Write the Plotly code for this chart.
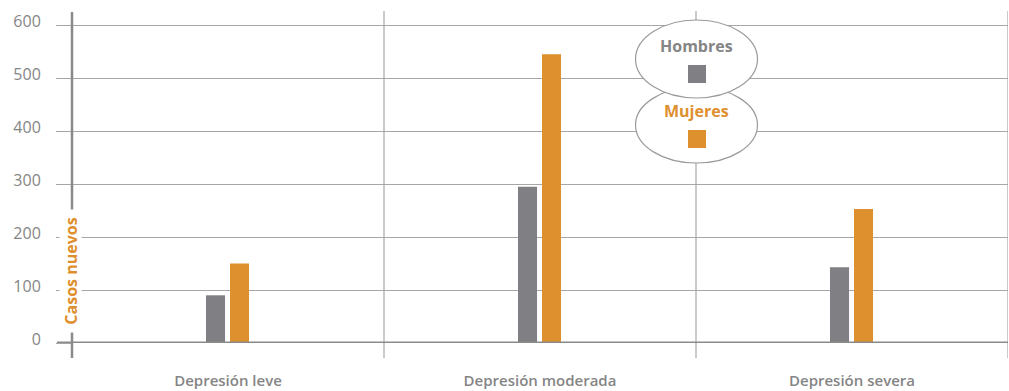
import plotly.graph_objects as go

# Data
categorias = ["Depresión leve", "Depresión moderada", "Depresión severa"]
hombres = [90, 295, 143]
mujeres = [150, 545, 253]
y_ticks = [0, 100, 200, 300, 400, 500, 600]
serie_nombres = ["Hombres", "Mujeres"]

# Styling
W, H = 1009, 391
ML, MR, MT, MB = 72, 1, 11, 48
PW, PH = W - ML - MR, H - MT - MB
GRAY_BAR = "#808084"
ORANGE = "#DE8F2E"
GRID = "#a6a6a6"
AXIS = "#8a8a8a"
TEXT = "#858585"
FONT = "Open Sans"


def px_x(p):
    return (p - ML) / PW


def px_y(p):
    return (H - MB - p) / PH


fig = go.Figure()
fig.add_trace(go.Bar(x=categorias, y=hombres, name=serie_nombres[0],
                     marker=dict(color=GRAY_BAR, line=dict(width=0)),
                     width=0.061, offset=-0.0705, showlegend=False))
fig.add_trace(go.Bar(x=categorias, y=mujeres, name=serie_nombres[1],
                     marker=dict(color=ORANGE, line=dict(width=0)),
                     width=0.061, offset=0.0064, showlegend=False))

shapes = []
# category separators, extending below the baseline
for b in [0.5, 1.5, 2.5]:
    shapes.append(dict(type="line", layer="below", xref="x", yref="paper",
                       x0=b, x1=b, y0=px_y(358), y1=1,
                       line=dict(color="#b8b8b8", width=1.5)))
# value axis line
shapes.append(dict(type="line", layer="above", xref="paper", yref="paper",
                   x0=0, x1=0, y0=px_y(358), y1=px_y(12),
                   line=dict(color=AXIS, width=2.5)))
# baseline
shapes.append(dict(type="line", layer="above", xref="paper", yref="y",
                   x0=px_x(57), x1=1, y0=0, y1=0,
                   line=dict(color=AXIS, width=3)))

# legend bubbles (Mujeres first, Hombres overlaps it)
cx = 696.5
for top, bot in [(87, 163), (20, 98)]:
    shapes.append(dict(type="circle", layer="above", xref="paper", yref="paper",
                       x0=px_x(cx - 61), x1=px_x(cx + 61),
                       y0=px_y(bot), y1=px_y(top),
                       fillcolor="white", line=dict(color="#9a9a9a", width=1.2)))
for (t, b), col in [((65, 83), GRAY_BAR), ((130, 148), ORANGE)]:
    shapes.append(dict(type="rect", layer="above", xref="paper", yref="paper",
                       x0=px_x(688), x1=px_x(706), y0=px_y(b), y1=px_y(t),
                       fillcolor=col, line=dict(width=0)))

annotations = [
    dict(text="<b>Hombres</b>", xref="paper", yref="paper",
         x=px_x(cx), y=px_y(46), xanchor="center", yanchor="middle",
         showarrow=False, font=dict(family=FONT, size=16, color=TEXT)),
    dict(text="<b>Mujeres</b>", xref="paper", yref="paper",
         x=px_x(cx), y=px_y(111), xanchor="center", yanchor="middle",
         showarrow=False, font=dict(family=FONT, size=16, color=ORANGE)),
    dict(text="<b>Casos nuevos</b>", xref="paper", yref="paper",
         x=px_x(70), y=px_y(271), xanchor="center", yanchor="middle",
         textangle=-90, showarrow=False, bgcolor="white",
         width=122, height=21, borderpad=0,
         font=dict(family=FONT, size=16, color=ORANGE)),
]

fig.update_layout(
    width=W, height=H,
    margin=dict(l=ML, r=MR, t=MT, b=MB, pad=0),
    paper_bgcolor="white", plot_bgcolor="white",
    barmode="group",
    shapes=shapes, annotations=annotations,
    xaxis=dict(range=[-0.5, 2.5], showgrid=False, showline=False,
               zeroline=False, ticks="", ticklabelstandoff=27,
               tickfont=dict(family=FONT, size=15, color=TEXT, weight=600)),
    yaxis=dict(range=[0, PH / 0.53], tickvals=y_ticks,
               showgrid=True, gridcolor=GRID, gridwidth=1.2,
               zeroline=False, showline=False,
               ticks="outside", ticklen=15, tickcolor=GRID, tickwidth=1.2,
               ticklabelstandoff=12, ticklabelshift=-4,
               tickfont=dict(family=FONT, size=16, color=TEXT)),
)

fig.write_html("out.html")
